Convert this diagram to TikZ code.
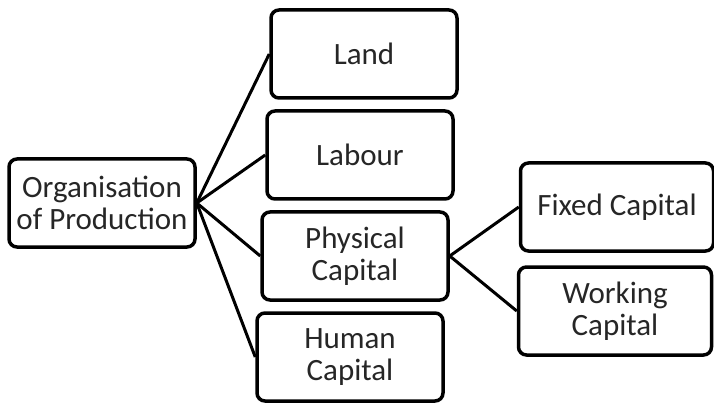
\documentclass[tikz,border=0pt]{standalone}
\usepackage{fontspec}
\setmainfont{Carlito}
\usepackage{tikz}
\usetikzlibrary{shapes.geometric, arrows}
\usetikzlibrary{positioning}
\tikzstyle{box} = [
                rectangle,
                rounded corners = 8pt,
                minimum width = 186pt,
                minimum height = 88pt,
                inner sep = 4pt,
                align = center,
                draw=black,
                line width = 3.5pt,
                text = black!85,
                font = \fontsize{31}{32}\selectfont
            ]
\tikzstyle{wideBox} = [box, minimum width = 193pt]
\tikzstyle{link} = [line width = 3pt, -]

\begin{document}
\begin{tikzpicture}[node distance=101pt]
                                \useasboundingbox (0pt,0pt) rectangle (714pt,-403pt);
                                \node (org) [box] at (102pt,-203pt) {Organisation\\of Production};
                                \node (land) [box] at (364pt,-54pt) {Land};
                                \node (labour) [box, below of=land, xshift = -4pt] {Labour};
                                \node (physical) [box, below of=labour, xshift = -5pt] {Physical\\Capital};
                                \node (human) [box, below of=physical, xshift = -5pt] {Human\\Capital};
                                \node (fixed) [wideBox] at (617pt,-207pt) {Fixed Capital};
                                \node (working) [wideBox, below of=fixed, xshift = -2pt, yshift = -3pt] {Working\\Capital};
                                \draw [link] (org.east) -- (land.west);
                                \draw [link] (org.east) -- (labour.west);
                                \draw [link] (org.east) -- (physical.west);
                                \draw [link] (org.east) -- (human.west);
                                \draw [link] (physical.east) -- (fixed.west);
                                \draw [link] (physical.east) -- (working.west);
                            \end{tikzpicture}
\end{document}
